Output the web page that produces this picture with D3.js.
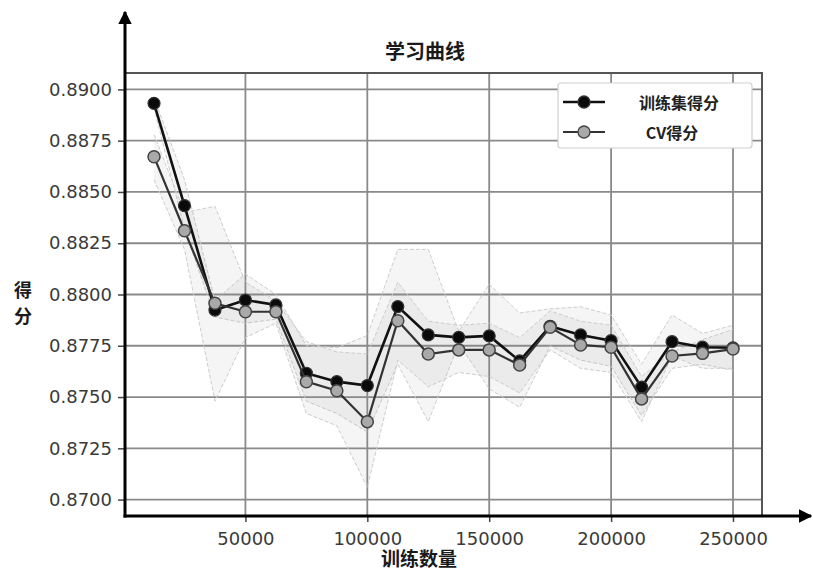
<!DOCTYPE html>
<html>
<head>
<meta charset="utf-8">
<script src="https://cdn.jsdelivr.net/npm/d3@7"></script>
<style>
  html, body { margin: 0; padding: 0; background: #fff; }
  #content { width: 813px; height: 574px; }
  text { font-family: "DejaVu Sans", sans-serif; }
  .cjk { font-family: "Noto Sans CJK SC", sans-serif; font-weight: bold; }
</style>
</head>
<body>
<div id="content"></div>
<script>
// Data

var trainSizes = [12500, 25000, 37500, 50000, 62500, 75000, 87500, 100000, 112500, 125000,
                  137500, 150000, 162500, 175000, 187500, 200000, 212500, 225000, 237500, 250000];

var trainScores = [0.88932, 0.88433, 0.87924, 0.87973, 0.87949, 0.87616, 0.87575, 0.87556, 0.87941, 0.87803,
                   0.87791, 0.87798, 0.87676, 0.87845, 0.87803, 0.87775, 0.87548, 0.87770, 0.87743, 0.87740];

var cvScores = [0.88672, 0.88311, 0.87957, 0.87916, 0.87916, 0.87575, 0.87531, 0.87380, 0.87872, 0.87710,
                0.87730, 0.87730, 0.87656, 0.87840, 0.87754, 0.87743, 0.87491, 0.87700, 0.87713, 0.87734];

var trainLower = [0.8891, 0.8832, 0.8789, 0.8786, 0.8788, 0.8748, 0.8742, 0.8733, 0.8766, 0.8738,
                  0.8776, 0.8754, 0.8745, 0.8775, 0.8768, 0.8765, 0.8741, 0.8764, 0.8766, 0.8763];
var trainUpper = [0.8896, 0.8856, 0.8797, 0.8810, 0.8800, 0.8775, 0.8774, 0.8780, 0.8822, 0.8822,
                  0.8782, 0.8805, 0.8791, 0.8793, 0.8794, 0.8790, 0.8766, 0.8790, 0.8781, 0.8785];
var cvLower = [0.8856, 0.8822, 0.8748, 0.8779, 0.8786, 0.8742, 0.8736, 0.8706, 0.8768, 0.8755,
               0.8762, 0.8760, 0.8752, 0.8773, 0.8764, 0.8762, 0.8738, 0.8770, 0.8764, 0.8764];
var cvUpper = [0.8878, 0.8840, 0.8843, 0.8806, 0.8797, 0.8777, 0.8772, 0.8771, 0.8806, 0.8787,
               0.8785, 0.8786, 0.8779, 0.8792, 0.8787, 0.8785, 0.8760, 0.8772, 0.8778, 0.8783];

var xTicks = [50000, 100000, 150000, 200000, 250000];
var yTicks = [0.8700, 0.8725, 0.8750, 0.8775, 0.8800, 0.8825, 0.8850, 0.8875, 0.8900];

var seriesNames = ["训练集得分", "CV得分"];

// Graphic parameters

var width = 813, height = 574,
    plotLeft = 125, plotRight = 762, plotTop = 73, plotBottom = 516;

var svg = d3.select("#content").append("svg")
    .attr("width", width)
    .attr("height", height);

svg.append("rect").attr("width", width).attr("height", height).attr("fill", "#fff");

var x = d3.scaleLinear().domain([600, 261900]).range([plotLeft, plotRight]),
    y = d3.scaleLinear().domain([0.86920, 0.89080]).range([plotBottom, plotTop]);

// Grid

svg.append("g")
  .selectAll("line")
  .data(yTicks)
  .join("line")
    .attr("x1", plotLeft).attr("x2", plotRight)
    .attr("y1", d => y(d)).attr("y2", d => y(d))
    .attr("stroke", "#8a8a8a")
    .attr("stroke-width", 1.8);

svg.append("g")
  .selectAll("line")
  .data(xTicks)
  .join("line")
    .attr("x1", d => x(d)).attr("x2", d => x(d))
    .attr("y1", plotTop).attr("y2", plotBottom)
    .attr("stroke", "#8a8a8a")
    .attr("stroke-width", 1.8);

// frame (top + right)
svg.append("path")
    .attr("d", "M" + plotLeft + "," + plotTop + "H" + plotRight + "V" + plotBottom)
    .attr("fill", "none")
    .attr("stroke", "#555")
    .attr("stroke-width", 2);

// Bands

var idx = d3.range(trainSizes.length);

function drawBand(lo, hi) {
  var area = d3.area()
      .x(i => x(trainSizes[i]))
      .y0(i => y(lo[i]))
      .y1(i => y(hi[i]));
  svg.append("path")
      .datum(idx)
      .attr("d", area)
      .attr("fill", "#8c8c8c")
      .attr("fill-opacity", 0.09);
  [lo, hi].forEach(function(arr) {
    svg.append("path")
        .datum(idx)
        .attr("d", d3.line().x(i => x(trainSizes[i])).y(i => y(arr[i])))
        .attr("fill", "none")
        .attr("stroke", "#cdcdcd")
        .attr("stroke-width", 1)
        .attr("stroke-dasharray", "4,2");
  });
}

drawBand(trainLower, trainUpper);
drawBand(cvLower, cvUpper);

// Lines and markers

var line = d3.line().x(d => x(d[0])).y(d => y(d[1]));

var trainPts = d3.zip(trainSizes, trainScores),
    cvPts = d3.zip(trainSizes, cvScores);

svg.append("path")
    .datum(trainPts)
    .attr("d", line)
    .attr("fill", "none")
    .attr("stroke", "#111")
    .attr("stroke-width", 2.6);

svg.append("g")
  .selectAll("circle")
  .data(trainPts)
  .join("circle")
    .attr("cx", d => x(d[0]))
    .attr("cy", d => y(d[1]))
    .attr("r", 6)
    .attr("fill", "#0a0a0a")
    .attr("stroke", "#333")
    .attr("stroke-width", 1.2);

svg.append("path")
    .datum(cvPts)
    .attr("d", line)
    .attr("fill", "none")
    .attr("stroke", "#333")
    .attr("stroke-width", 2.2);

svg.append("g")
  .selectAll("circle")
  .data(cvPts)
  .join("circle")
    .attr("cx", d => x(d[0]))
    .attr("cy", d => y(d[1]))
    .attr("r", 6)
    .attr("fill", "#a9a9a9")
    .attr("stroke", "#444")
    .attr("stroke-width", 1.5);

// Axes

var yAxis = svg.append("g")
    .attr("transform", "translate(" + plotLeft + ",0)")
    .call(d3.axisLeft(y).tickValues(yTicks).tickFormat(d3.format(".4f")).tickSize(7).tickPadding(6));

var xAxis = svg.append("g")
    .attr("transform", "translate(0," + plotBottom + ")")
    .call(d3.axisBottom(x).tickValues(xTicks).tickFormat(d3.format("d")).tickSize(6).tickPadding(10));

[xAxis, yAxis].forEach(function(a) {
  a.select(".domain").remove();
  a.selectAll(".tick line").attr("stroke", "#444").attr("stroke-width", 1.5);
  a.selectAll(".tick text")
      .attr("fill", "#3a3a3a")
      .style("font-family", "DejaVu Sans, sans-serif")
      .style("font-size", "18px");
});

// arrows
svg.append("defs").append("marker")
    .attr("id", "arrow")
    .attr("viewBox", "0 0 10 10")
    .attr("refX", 9).attr("refY", 5)
    .attr("markerWidth", 4.5).attr("markerHeight", 4.5)
    .attr("orient", "auto")
  .append("path")
    .attr("d", "M0,0L10,5L0,10z")
    .attr("fill", "#000");

svg.append("line")
    .attr("x1", plotLeft).attr("y1", plotBottom + 1.5)
    .attr("x2", plotLeft).attr("y2", 12)
    .attr("stroke", "#000").attr("stroke-width", 3)
    .attr("marker-end", "url(#arrow)");

svg.append("line")
    .attr("x1", plotLeft - 1.5).attr("y1", plotBottom)
    .attr("x2", 811).attr("y2", plotBottom)
    .attr("stroke", "#000").attr("stroke-width", 3)
    .attr("marker-end", "url(#arrow)");

// Texts

svg.append("text")
    .attr("class", "cjk")
    .attr("x", 425).attr("y", 50)
    .attr("text-anchor", "middle")
    .attr("dominant-baseline", "central")
    .style("font-size", "20px")
    .attr("fill", "#1a1a1a")
    .text("学习曲线");

svg.append("text")
    .attr("class", "cjk")
    .attr("x", 419).attr("y", 557)
    .attr("text-anchor", "middle")
    .attr("dominant-baseline", "central")
    .style("font-size", "19px")
    .attr("fill", "#1a1a1a")
    .text("训练数量");

svg.append("text")
    .attr("class", "cjk")
    .attr("x", 23).attr("y", 289)
    .attr("text-anchor", "middle")
    .attr("dominant-baseline", "central")
    .style("font-size", "18px")
    .attr("fill", "#1a1a1a")
    .text("得");

svg.append("text")
    .attr("class", "cjk")
    .attr("x", 23).attr("y", 315)
    .attr("text-anchor", "middle")
    .attr("dominant-baseline", "central")
    .style("font-size", "18px")
    .attr("fill", "#1a1a1a")
    .text("分");

// Legend

var legend = svg.append("g");

legend.append("rect")
    .attr("x", 558).attr("y", 83)
    .attr("width", 194).attr("height", 65)
    .attr("rx", 3)
    .attr("fill", "#fff")
    .attr("stroke", "#cfcfcf")
    .attr("stroke-width", 1.2);

var legendRows = legend.selectAll("g.row")
    .data(seriesNames)
  .join("g")
    .attr("class", "row")
    .attr("transform", (d, i) => "translate(0," + (102 + i * 30) + ")");

legendRows.append("line")
    .attr("x1", 563).attr("x2", 605)
    .attr("stroke", (d, i) => i === 0 ? "#111" : "#333")
    .attr("stroke-width", (d, i) => i === 0 ? 2.6 : 2.2);

legendRows.append("circle")
    .attr("cx", 584).attr("r", 6)
    .attr("fill", (d, i) => i === 0 ? "#0a0a0a" : "#a9a9a9")
    .attr("stroke", (d, i) => i === 0 ? "#333" : "#444")
    .attr("stroke-width", 1.3);

legendRows.append("text")
    .attr("class", "cjk")
    .attr("x", (d, i) => i === 0 ? 679 : 672)
    .attr("text-anchor", "middle")
    .attr("dominant-baseline", "central")
    .style("font-size", "16px")
    .attr("fill", "#222")
    .text(d => d);
</script>
</body>
</html>
